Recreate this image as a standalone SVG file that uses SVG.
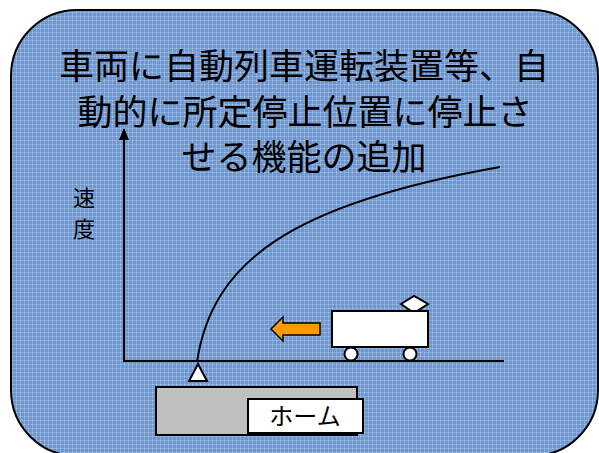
<svg xmlns="http://www.w3.org/2000/svg" width="599" height="453" viewBox="0 0 599 453">
  <style>
    .line { fill: none; stroke: #000; stroke-width: 2; }
    .shape { stroke: #000; stroke-width: 2; }
    .title { font-family: "Noto Sans CJK JP", "Noto Sans", sans-serif; font-size: 35px; fill: #000; text-anchor: middle; }
    .label { font-family: "Noto Sans CJK JP", "Noto Sans", sans-serif; fill: #000; text-anchor: middle; }
  </style>
  <defs>
    <!-- woven blue texture of the panel -->
    <pattern id="weave" width="4" height="4" patternUnits="userSpaceOnUse">
      <rect width="4" height="4" fill="#6f97cd"/>
      <rect x="0" y="0" width="4" height="1" fill="#88aadb"/>
      <rect x="0" y="0" width="1" height="4" fill="#88aadb"/>
      <rect x="0" y="0" width="1" height="1" fill="#a9c2e8"/>
    </pattern>
    <!-- filled arrowhead pointing along the line direction -->
    <marker id="arrowHead" viewBox="0 0 12 10" refX="11" refY="5" markerWidth="12" markerHeight="10" markerUnits="userSpaceOnUse" orient="auto">
      <path d="M0,0 L12,5 L0,10 Z" fill="#000"/>
    </marker>
  </defs>

  <!-- panel -->
  <g id="panel">
    <rect x="11" y="10" width="587" height="446" rx="66" ry="66" fill="url(#weave)" stroke="#000" stroke-width="2"/>
  </g>

  <!-- heading -->
  <g id="title">
    <text class="title" x="304" y="79">車両に自動列車運転装置等、自</text>
    <text class="title" x="305" y="125">動的に所定停止位置に停止さ</text>
    <text class="title" x="304" y="170">せる機能の追加</text>
  </g>

  <!-- axes and speed curve -->
  <g id="connectors">
    <line class="line" x1="124" y1="361" x2="124" y2="129" marker-end="url(#arrowHead)"/>
    <line class="line" x1="123" y1="361" x2="504" y2="361"/>
    <path class="line" d="M197,362 C212,262 290,204 500,167"/>
  </g>

  <g id="speed-label">
    <text class="label" x="84" y="206" font-size="22">速</text>
    <text class="label" x="84" y="237" font-size="22">度</text>
  </g>

  <!-- stopping point marker -->
  <g id="stop-marker">
    <polygon class="shape" points="198,364 189,381 207,381" fill="#fff"/>
  </g>

  <!-- platform -->
  <g id="platform">
    <rect class="shape" x="156" y="387" width="201" height="48" fill="#c0c0c0"/>
    <rect class="shape" x="248" y="399" width="115" height="34" fill="#fff"/>
    <text class="label" x="305" y="425" font-size="24">ホーム</text>
  </g>

  <!-- train -->
  <g id="train">
    <polygon class="shape" points="401,304 414,296 428,304 414,313" fill="#fff"/>
    <rect class="shape" x="332" y="311" width="96" height="36" fill="#fff"/>
    <circle class="shape" cx="351" cy="354" r="6.5" fill="#fff"/>
    <circle class="shape" cx="410" cy="354" r="6.5" fill="#fff"/>
  </g>

  <!-- direction of travel -->
  <g id="direction-arrow">
    <polygon points="271,329 283,317 283,323 320,323 320,335 283,335 283,341" fill="#ff9900" stroke="#000" stroke-width="1.5"/>
  </g>
</svg>
